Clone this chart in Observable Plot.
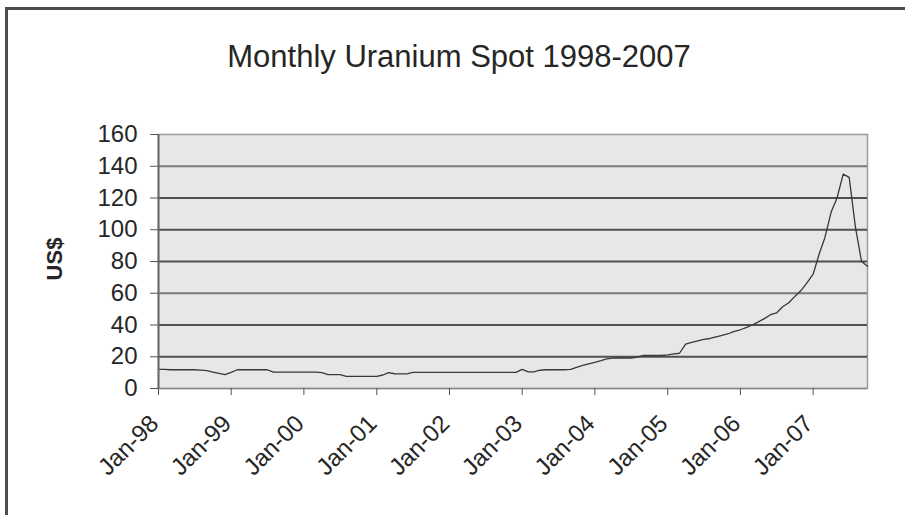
<!DOCTYPE html>
<html><head><meta charset="utf-8">
<script src="https://cdn.jsdelivr.net/npm/d3@7"></script>
<script src="https://cdn.jsdelivr.net/npm/@observablehq/plot@0.6"></script>
<style>
html,body{margin:0;padding:0;background:#fff;}
#wrap{position:relative;width:905px;height:515px;overflow:hidden;font-family:Arial,"Liberation Sans",sans-serif;}
#frame{position:absolute;left:5px;top:7px;right:-10px;bottom:-10px;border-left:3px solid #4d4d4d;border-top:3px solid #4d4d4d;}
#chart{position:absolute;left:0;top:0;}
</style></head><body>
<div id="wrap"><div id="frame"></div><div id="chart"></div></div>
<script>
// Monthly uranium spot price (US$/lb), Jan 1998 - Oct 2007
const p1998 = [12.0, 12.0, 11.8, 11.8, 11.8, 11.8, 11.8, 11.6, 11.2, 10.3, 9.5, 8.7];
const p1999 = [10.2, 11.8, 11.8, 11.8, 11.8, 11.8, 11.8, 10.3, 10.3, 10.3, 10.3, 10.3];
const p2000 = [10.3, 10.3, 10.3, 10.0, 8.8, 8.8, 8.8, 7.7, 7.7, 7.7, 7.7, 7.7];
const p2001 = [7.7, 8.5, 10.0, 9.3, 9.2, 9.2, 10.2, 10.2, 10.2, 10.2, 10.2, 10.2];
const p2002 = [10.2, 10.2, 10.2, 10.2, 10.2, 10.2, 10.2, 10.2, 10.2, 10.2, 10.2, 10.2];
const p2003 = [12.0, 10.5, 10.5, 11.5, 11.8, 11.8, 11.8, 11.8, 12.0, 13.3, 14.5, 15.5];
const p2004 = [16.5, 17.5, 18.7, 19.2, 19.2, 19.2, 19.2, 19.8, 20.8, 20.8, 20.8, 20.8];
const p2005 = [21.2, 21.8, 22.2, 28.0, 29.0, 30.0, 31.0, 31.5, 32.5, 33.5, 34.5, 36.0];
const p2006 = [37.0, 38.5, 40.0, 42.0, 44.0, 46.5, 47.6, 51.5, 54.0, 58.0, 61.7, 66.5];
const p2007 = [72.0, 85.0, 95.0, 111.0, 120.0, 135.0, 133.0, 102.0, 80.0, 77.0];

const yTicks = [0, 20, 40, 60, 80, 100, 120, 140, 160];
const tickYears = [1998, 1999, 2000, 2001, 2002, 2003, 2004, 2005, 2006, 2007];
const tickLabels = ["Jan-98", "Jan-99", "Jan-00", "Jan-01", "Jan-02", "Jan-03", "Jan-04", "Jan-05", "Jan-06", "Jan-07"];
const titleText = "Monthly Uranium Spot 1998-2007";
const yLabel = "US$";

const prices = [...p1998, ...p1999, ...p2000, ...p2001, ...p2002, ...p2003, ...p2004, ...p2005, ...p2006, ...p2007];
const data = prices.map((v, i) => ({date: new Date(Date.UTC(1998, i, 1)), price: v}));
const tickDates = tickYears.map(y => new Date(Date.UTC(y, 0, 1)));
const xStart = data[0].date, xEnd = data[data.length - 1].date;

const font = "Arial, 'Liberation Sans', sans-serif";
const chart = Plot.plot({
  width: 905, height: 515,
  marginLeft: 158, marginRight: 38, marginTop: 134, marginBottom: 127,
  style: {fontFamily: font, fontSize: "24px", color: "#262626", background: "transparent", overflow: "visible"},
  x: {type: "utc", domain: [xStart, xEnd]},
  y: {domain: [0, 160]},
  marks: [
    Plot.frame({fill: "#e7e7e7", stroke: "#9c9c9c", strokeWidth: 1.5}),
    Plot.ruleY(yTicks.filter(d => d > 0 && d < 160), {stroke: d => (d === 60 || d === 140) ? "#7a7a7a" : "#505050", strokeWidth: 1.8}),
    Plot.line(data, {x: "date", y: "price", stroke: "#383838", strokeWidth: 1.3}),
    Plot.ruleX([xStart], {stroke: "#6a6a6a", strokeWidth: 2}),
    Plot.ruleY([0], {stroke: "#8a8a8a", strokeWidth: 1.5}),
    Plot.axisY({ticks: yTicks, tickSize: 8, tickPadding: 13, label: null, fontSize: 24, stroke: "#555"}),
    Plot.axisX({ticks: tickDates, tickFormat: () => "", tickSize: 7, label: null, stroke: "#555"}),
    Plot.axisX({ticks: tickDates, tickFormat: d => tickLabels[tickDates.findIndex(t => +t === +d)],
      tickRotate: -45, tickSize: 0, tickPadding: 31, dx: -4, label: null, fontSize: 24})
  ]
});
document.getElementById("chart").appendChild(chart);
const svg = d3.select(chart);
svg.append("text").attr("x", 459).attr("y", 67).attr("text-anchor", "middle")
  .attr("font-family", font).attr("font-size", 31).attr("fill", "#262626").text(titleText);
svg.append("text").attr("transform", "translate(62,259) rotate(-90)").attr("text-anchor", "middle")
  .attr("font-family", font).attr("font-size", 22).attr("font-weight", "bold").attr("fill", "#262626").text(yLabel);
</script>
</body></html>
